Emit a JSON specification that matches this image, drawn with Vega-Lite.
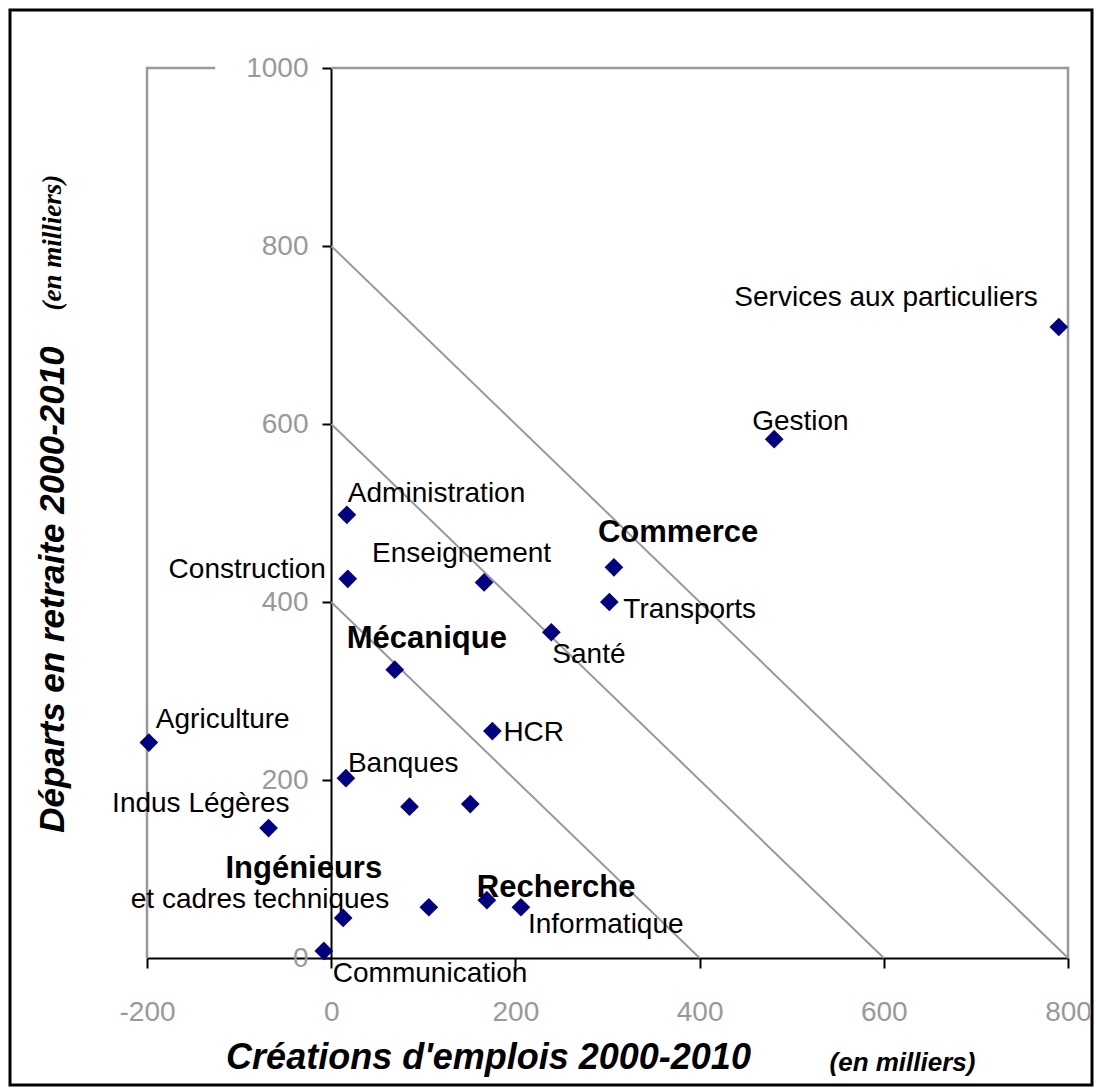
{
  "$schema": "https://vega.github.io/schema/vega-lite/v6.json",
  "width": 1082,
  "height": 1075,
  "autosize": {"type": "none"},
  "padding": {"left": 10, "top": 10, "right": 4, "bottom": 4},
  "background": "white",
  "config": {
    "view": {"stroke": "black", "strokeWidth": 3},
    "text": {"font": "Liberation Sans", "fontSize": 28, "color": "black"},
    "axis": {"labelFont": "Liberation Sans", "titleFont": "Liberation Sans"}
  },
  "datasets": {
    "secteurs": [
      {"secteur": "Services aux particuliers", "creations": 790, "departs": 709},
      {"secteur": "Gestion", "creations": 481, "departs": 583},
      {"secteur": "Commerce", "creations": 307, "departs": 439},
      {"secteur": "Transports", "creations": 302, "departs": 400},
      {"secteur": "Santé", "creations": 239, "departs": 366},
      {"secteur": "Enseignement", "creations": 166, "departs": 422},
      {"secteur": "Administration", "creations": 17, "departs": 498},
      {"secteur": "Construction", "creations": 18, "departs": 426},
      {"secteur": "Mécanique", "creations": 69, "departs": 324},
      {"secteur": "HCR", "creations": 175, "departs": 255},
      {"secteur": "Banques", "creations": 16, "departs": 202},
      {"secteur": "", "creations": 85, "departs": 170},
      {"secteur": "", "creations": 151, "departs": 173},
      {"secteur": "Agriculture", "creations": -198, "departs": 242},
      {"secteur": "Indus Légères", "creations": -68, "departs": 146},
      {"secteur": "Ingénieurs et cadres techniques", "ligne1": "Ingénieurs", "ligne2": "et cadres techniques", "creations": 13, "departs": 45},
      {"secteur": "", "creations": 106, "departs": 57},
      {"secteur": "Recherche", "creations": 169, "departs": 65},
      {"secteur": "Informatique", "creations": 206, "departs": 57},
      {"secteur": "Communication", "creations": -8, "departs": 8}
    ],
    "diagonales": [
      {"niveau": 400, "creations": 0, "departs": 400},
      {"niveau": 400, "creations": 400, "departs": 0},
      {"niveau": 600, "creations": 0, "departs": 600},
      {"niveau": 600, "creations": 600, "departs": 0},
      {"niveau": 800, "creations": 0, "departs": 800},
      {"niveau": 800, "creations": 800, "departs": 0}
    ],
    "cadre": [
      {"cote": "gauche", "ordre": 1, "creations": -200, "departs": 0},
      {"cote": "gauche", "ordre": 2, "creations": -200, "departs": 1000},
      {"cote": "gauche", "ordre": 3, "creations": -126, "departs": 1000},
      {"cote": "droite", "ordre": 4, "creations": 0, "departs": 1000},
      {"cote": "droite", "ordre": 5, "creations": 800, "departs": 1000},
      {"cote": "droite", "ordre": 6, "creations": 800, "departs": 0}
    ]
  },
  "data": {"name": "secteurs"},
  "encoding": {
    "x": {"field": "creations", "type": "quantitative", "scale": {"domain": [-200, 800], "range": [137, 1058], "nice": false, "zero": false}, "axis": null},
    "y": {"field": "departs", "type": "quantitative", "scale": {"domain": [0, 1000], "range": [948, 58], "nice": false, "zero": false}, "axis": null}
  },
  "layer": [
    {
      "data": {"name": "cadre"},
      "mark": {"type": "line", "color": "#999999", "strokeWidth": 2.5},
      "encoding": {
        "order": {"field": "ordre", "type": "quantitative"},
        "detail": {"field": "cote"}
      }
    },
    {
      "data": {"name": "diagonales"},
      "mark": {"type": "line", "color": "#999999", "strokeWidth": 2},
      "encoding": {
        "x": {"field": "creations", "type": "quantitative", "scale": {"domain": [-200, 800], "range": [137, 1058], "nice": false, "zero": false},
          "axis": {"orient": "top", "domain": false, "ticks": false, "labels": false, "grid": false,
            "title": "(en milliers)", "titleX": 892, "titleY": 1060, "titleAngle": 0, "titleAlign": "center", "titleBaseline": "alphabetic",
            "titleFontSize": 26, "titleFontStyle": "italic", "titleFontWeight": "bold", "titleColor": "black"}},
        "y": {"field": "departs", "type": "quantitative", "scale": {"domain": [0, 1000], "range": [948, 58], "nice": false, "zero": false},
          "axis": {"orient": "right", "domain": false, "ticks": false, "labels": false, "grid": false,
            "title": "(en milliers)", "titleX": -1032, "titleY": 232, "titleAngle": 270, "titleAlign": "center", "titleBaseline": "alphabetic",
            "titleFont": "Liberation Serif", "titleFontSize": 27, "titleFontStyle": "italic", "titleFontWeight": "bold", "titleColor": "black"}},
        "detail": {"field": "niveau"}
      }
    },
    {"transform": [{"filter": {"field": "secteur", "equal": "Services aux particuliers"}}], "mark": {"type": "text", "align": "right", "baseline": "alphabetic", "dx": -21, "dy": -21}, "encoding": {"text": {"field": "secteur"}}},
    {"transform": [{"filter": {"field": "secteur", "equal": "Gestion"}}], "mark": {"type": "text", "align": "left", "baseline": "alphabetic", "dx": -22, "dy": -9}, "encoding": {"text": {"field": "secteur"}}},
    {"transform": [{"filter": {"field": "secteur", "equal": "Administration"}}], "mark": {"type": "text", "align": "left", "baseline": "alphabetic", "dx": 1, "dy": -13}, "encoding": {"text": {"field": "secteur"}}},
    {"transform": [{"filter": {"field": "secteur", "equal": "Construction"}}], "mark": {"type": "text", "align": "right", "baseline": "alphabetic", "dx": -22, "dy": -1}, "encoding": {"text": {"field": "secteur"}}},
    {"transform": [{"filter": {"field": "secteur", "equal": "Enseignement"}}], "mark": {"type": "text", "align": "left", "baseline": "alphabetic", "dx": -112, "dy": -20}, "encoding": {"text": {"field": "secteur"}}},
    {"transform": [{"filter": {"field": "secteur", "equal": "Commerce"}}], "mark": {"type": "text", "align": "left", "baseline": "alphabetic", "dx": -16, "dy": -25, "fontWeight": "bold", "fontSize": 31}, "encoding": {"text": {"field": "secteur"}}},
    {"transform": [{"filter": {"field": "secteur", "equal": "Transports"}}], "mark": {"type": "text", "align": "left", "baseline": "alphabetic", "dx": 14, "dy": 16}, "encoding": {"text": {"field": "secteur"}}},
    {"transform": [{"filter": {"field": "secteur", "equal": "Santé"}}], "mark": {"type": "text", "align": "left", "baseline": "alphabetic", "dx": 1, "dy": 31}, "encoding": {"text": {"field": "secteur"}}},
    {"transform": [{"filter": {"field": "secteur", "equal": "Mécanique"}}], "mark": {"type": "text", "align": "left", "baseline": "alphabetic", "dx": -48, "dy": -22, "fontWeight": "bold", "fontSize": 31}, "encoding": {"text": {"field": "secteur"}}},
    {"transform": [{"filter": {"field": "secteur", "equal": "Agriculture"}}], "mark": {"type": "text", "align": "left", "baseline": "alphabetic", "dx": 7, "dy": -15}, "encoding": {"text": {"field": "secteur"}}},
    {"transform": [{"filter": {"field": "secteur", "equal": "Banques"}}], "mark": {"type": "text", "align": "left", "baseline": "alphabetic", "dx": 2, "dy": -6}, "encoding": {"text": {"field": "secteur"}}},
    {"transform": [{"filter": {"field": "secteur", "equal": "Indus Légères"}}], "mark": {"type": "text", "align": "right", "baseline": "alphabetic", "dx": 21, "dy": -16}, "encoding": {"text": {"field": "secteur"}}},
    {"transform": [{"filter": {"field": "secteur", "equal": "HCR"}}], "mark": {"type": "text", "align": "left", "baseline": "alphabetic", "dx": 11, "dy": 10}, "encoding": {"text": {"field": "secteur"}}},
    {"transform": [{"filter": {"field": "secteur", "equal": "Recherche"}}], "mark": {"type": "text", "align": "left", "baseline": "alphabetic", "dx": -10, "dy": -3, "fontWeight": "bold", "fontSize": 31}, "encoding": {"text": {"field": "secteur"}}},
    {"transform": [{"filter": {"field": "secteur", "equal": "Informatique"}}], "mark": {"type": "text", "align": "left", "baseline": "alphabetic", "dx": 7, "dy": 26}, "encoding": {"text": {"field": "secteur"}}},
    {"transform": [{"filter": {"field": "secteur", "equal": "Ingénieurs et cadres techniques"}}], "mark": {"type": "text", "align": "right", "baseline": "alphabetic", "dx": 39, "dy": -40, "fontWeight": "bold", "fontSize": 31}, "encoding": {"text": {"field": "ligne1"}}},
    {"transform": [{"filter": {"field": "secteur", "equal": "Ingénieurs et cadres techniques"}}], "mark": {"type": "text", "align": "right", "baseline": "alphabetic", "dx": 46, "dy": -10}, "encoding": {"text": {"field": "ligne2"}}},
    {"transform": [{"filter": {"field": "secteur", "equal": "Communication"}}], "mark": {"type": "text", "align": "left", "baseline": "alphabetic", "dx": 9, "dy": 31}, "encoding": {"text": {"field": "secteur"}}},
    {
      "mark": {"type": "point", "shape": "diamond", "filled": true, "size": 350, "color": "#000080", "opacity": 1},
      "encoding": {
        "x": {"field": "creations", "type": "quantitative", "scale": {"domain": [-200, 800], "range": [137, 1058], "nice": false, "zero": false},
          "axis": {"orient": "bottom", "offset": -127, "values": [-200, 0, 200, 400, 600, 800], "labelExpr": "'' + datum.value", "domainColor": "black", "domainWidth": 2,
            "tickColor": "black", "tickWidth": 2, "tickSize": 10, "labelColor": "#999999", "labelFontSize": 28, "labelPadding": 30,
            "labelFlush": false, "labelOverlap": false, "labelBound": false, "grid": false,
            "title": "Créations d'emplois 2000-2010", "titleX": 478, "titleY": 110, "titleAlign": "center", "titleBaseline": "alphabetic",
            "titleFontSize": 36, "titleFontStyle": "italic", "titleFontWeight": "bold", "titleColor": "black"}},
        "y": {"field": "departs", "type": "quantitative", "scale": {"domain": [0, 1000], "range": [948, 58], "nice": false, "zero": false},
          "axis": {"orient": "left", "offset": -321, "values": [0, 200, 400, 600, 800, 1000], "labelExpr": "'' + datum.value", "domainColor": "black", "domainWidth": 2,
            "tickColor": "black", "tickWidth": 2, "tickSize": 9, "labelColor": "#999999", "labelFontSize": 28, "labelPadding": 14,
            "labelOverlap": false, "labelBound": false, "grid": false,
            "title": "Départs en retraite 2000-2010", "titleX": -268, "titleY": 579, "titleAngle": 270, "titleAlign": "center", "titleBaseline": "alphabetic",
            "titleFontSize": 35, "titleFontStyle": "italic", "titleFontWeight": "bold", "titleColor": "black"}}
      }
    }
  ],
  "resolve": {"axis": {"x": "independent", "y": "independent"}}
}
